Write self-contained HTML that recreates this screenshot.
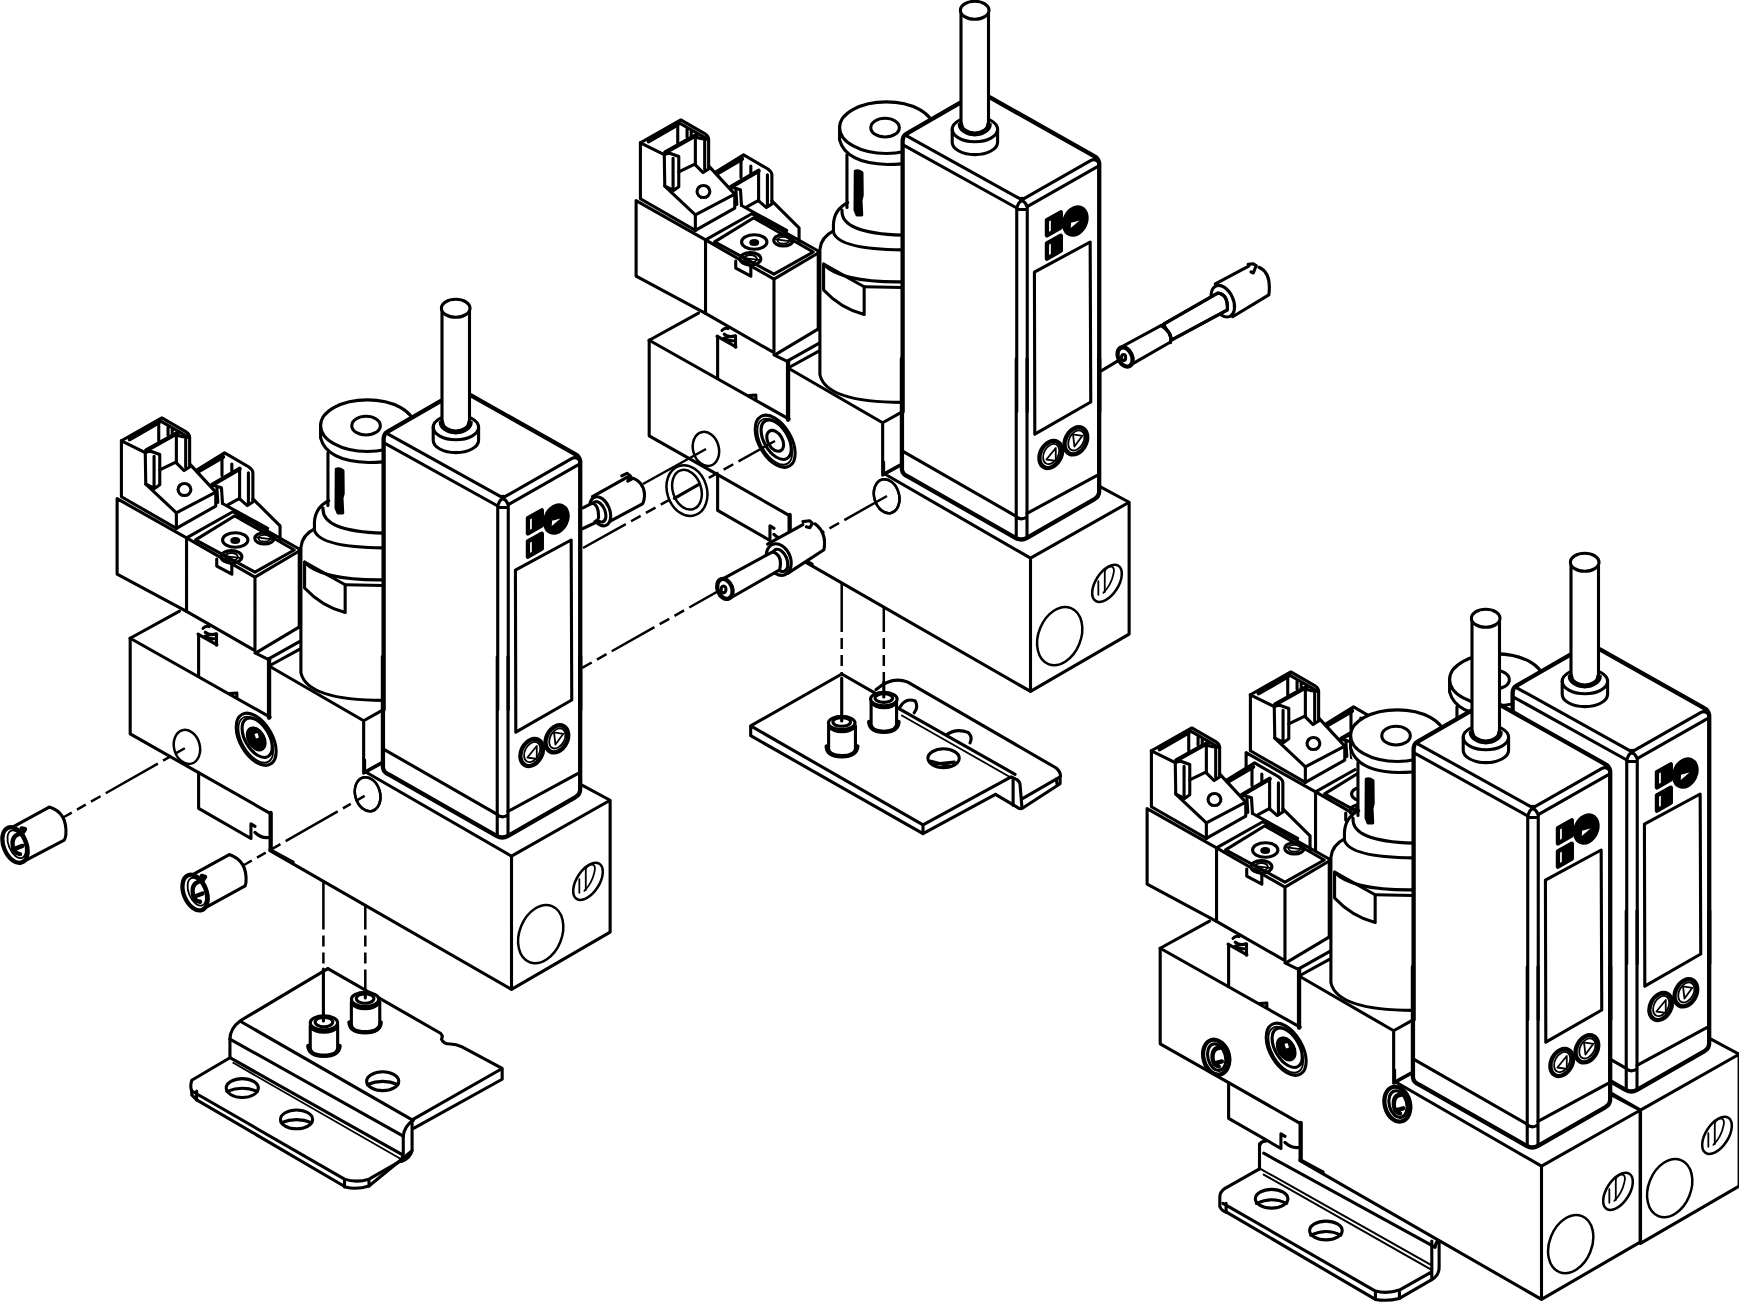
<!DOCTYPE html>
<html><head><meta charset="utf-8"><title>Valve assembly</title>
<style>
html,body{margin:0;padding:0;background:#fff;width:1739px;height:1302px;overflow:hidden;font-family:"Liberation Sans",sans-serif;}
svg{display:block}
svg *{vector-effect:non-scaling-stroke}
.s path,.s ellipse,.s line,.s polyline,.s polygon,.s circle,.s rect{fill:none;stroke:#000;stroke-width:3.1;stroke-linejoin:round;stroke-linecap:round}
.s .w{fill:#fff}
.s .t{stroke-width:4.3}
.s .tt{stroke-width:5.5}
.s .f{fill:#000}
.s .n{stroke-width:1.8}
.s .m{stroke-width:2.5}
.s .d{stroke-dasharray:14 8;stroke-width:2.2}
.s .ch path{stroke-dasharray:49 6 11 6 11 6;stroke-width:2.5;vector-effect:none;stroke-linecap:butt}
</style></head><body>
<svg class="s" width="1739" height="1302" viewBox="0 0 1739 1302">
<defs>
<g id="unit">
 <path class="w" style="stroke:none" d="M121.4,440.8 L161.8,418 L189.6,436.1 L189.6,467 L197.1,469.8 L224.6,452.9 L252.9,472.4 L252.9,501.9 L280.1,525.8 L280.1,540 L299.2,549 L314.4,529 L314.4,515.4 L328,500.7 L328,460 L320.6,438 L320.6,425.7 L340,405 L367,399.8 L395,403 L410,418 L441.5,400 L441.5,310 L456,300 L471,310 L471,394 L582,455 L582,790 L610,800 L610,932 L511,989 L270,850 L250.9,838.5 L198.6,808.3 L198.6,772.7 L130.2,733.8 L130.2,638.2 L117.1,574.2 L117.1,498.7 L121.4,496.8 Z"/>
 <!-- E frame: manifold right end -->
 <g transform="translate(270,760) scale(0.20126)">
  <path d="M470,0 L470,60 L560,10 M480,62 L1200,478 L1690,200 L1690,855 L1200,1140 L0,450 M1200,478 L1200,1140 M1550,125 L1690,200"/>
  <ellipse class="m" cx="485" cy="170" rx="62" ry="86" transform="rotate(-15 485 170)"/>
  <ellipse class="m" cx="1345" cy="865" rx="105" ry="150" transform="rotate(22 1345 865)"/>
  <ellipse class="m" cx="1580" cy="603" rx="56" ry="104" transform="rotate(33 1580 603)"/>
  <path class="n" d="M1569,540 Q1585,515 1604,520 Q1620,527 1612,557 Q1600,612 1562,650"/>
  <path class="n" d="M1569,541 L1569,646 M1537,592 L1537,660"/>
 </g>
 <!-- C frame: manifold sub-base -->
 <g transform="translate(100,600) scale(0.20126)">
  <path d="M150,190 L395,55"/>
  <path d="M150,190 L150,665 L490,858 L845,1060"/>
  <path d="M150,190 L845,582"/>
  <path d="M490,170 L490,380"/>
  <path d="M770,263 L836,295 M781,259 L993,132"/>
  <path class="t" d="M840,295 L840,585"/>
  <path d="M836,294 L993,206 M840,328 L993,244"/>
  <path d="M840,328 L1310,600 L1310,860 M1310,600 L1400,550 M1310,860 L1400,810"/>
  <path d="M512,141 Q523,126 542,132 M523,160 Q546,179 577,168 M523,179 Q546,198 577,191 M579,168 L579,225 M487,170 L581,223"/>
  <path d="M645,465 L680,462 L680,485"/>
  <ellipse cx="776" cy="692" rx="80" ry="142" transform="rotate(-30 776 692)"/>
  <ellipse class="n" cx="774" cy="694" rx="68" ry="126" transform="rotate(-30 774 694)"/>
  <ellipse cx="781" cy="684" rx="60" ry="108" transform="rotate(-30 781 684)"/>
  <ellipse cx="776" cy="690" rx="36" ry="56" transform="rotate(-30 776 690)"/>
  <ellipse class="m" cx="432" cy="730" rx="64" ry="86" transform="rotate(-15 432 730)"/>
  <path d="M490,858 L490,1035 L750,1185 L750,1112 L770,1125 M770,1155 Q800,1185 840,1180"/>
  <path class="t" d="M848,1058 L848,1240"/>
  <ellipse class="m" cx="1330" cy="965" rx="62" ry="86" transform="rotate(-15 1330 965)"/>
  <path d="M845,1240 L960,1302"/>
 </g>
 <!-- A frame: coils -->
 <g transform="translate(100,390) scale(0.20126)">
  <path d="M85,540 L85,915 L430,1100 L430,735 Z"/>
  <path d="M430,735 L770,930 L770,1295 L430,1100 M770,930 L990,800 M430,735 L660,605 L990,790"/>
  <path d="M475,745 L670,625 L965,795 L770,905 Z"/>
  <ellipse cx="672" cy="745" rx="63" ry="36"/>
  <ellipse class="f" cx="672" cy="748" rx="17" ry="10"/>
  <ellipse cx="817" cy="737" rx="48" ry="28"/>
  <ellipse class="n" cx="817" cy="737" rx="30" ry="17"/>
  <path class="n" d="M780,732 L855,742"/>
  <ellipse cx="653" cy="829" rx="52" ry="31"/>
  <ellipse class="n" cx="653" cy="829" rx="32" ry="19"/>
  <path class="n" d="M612,824 L695,834"/>
  <path d="M580,840 L580,875 L655,915 L655,865"/>
  <path d="M990,790 L990,1180"/>
 </g>
 <!-- K1 frame: connectors -->
 <g transform="translate(110,405) scale(0.10369)">
  <path d="M110,345 L500,125 L738,262 Q768,282 768,315 L768,598 L715,632 L640,558"/>
  <path d="M110,345 L110,885 L640,1190"/>
  <path d="M110,345 L345,462"/>
  <path class="t" d="M190,330 L470,168 M350,438 L648,272"/>
  <path d="M470,165 L470,345 M480,150 L740,300 M560,215 L560,290 M600,232 L600,292"/>
  <path d="M640,290 L640,558 M730,318 L730,600 M640,290 L700,305 L768,310"/>
  <path d="M480,625 L640,548"/>
  <path d="M340,462 L345,762 L430,805 L480,770 L480,478 L400,448 Q355,445 340,462 Z M425,495 L425,800"/>
  <path d="M345,762 L640,1040 M770,570 L1020,840"/>
  <path d="M640,1040 L1020,840 L1020,975 L640,1190 Z"/>
  <ellipse cx="718" cy="815" rx="62" ry="58"/>
  <path d="M840,625 L1105,462 L1340,598 Q1378,625 1378,655 L1378,935 L1325,970 L1250,905"/>
  <path class="t" d="M850,640 L1090,500 M985,770 L1250,615"/>
  <path d="M1080,505 L1080,680 M1175,570 L1175,650"/>
  <path d="M1250,625 L1250,905 M1335,655 L1335,960"/>
  <path d="M985,772 L1075,798 L1085,950 M1030,790 L1040,940"/>
  <path d="M1378,905 L1640,1165 L1640,1302"/>
  <path d="M1085,950 L1520,1190 M1140,960 L1250,900"/>
 </g>
 <!-- R frame: regulator -->
 <g transform="translate(280,390) scale(0.2459)">
  <path class="w" d="M165,145 L165,195 Q175,280 195,285 L195,450 Q140,480 140,560 Q90,590 85,640 L85,1150 Q110,1260 420,1262 L420,100 Q330,30 165,145 Z" style="stroke:none"/>
  <ellipse class="w" cx="355" cy="145" rx="190" ry="105"/>
  <ellipse cx="350" cy="145" rx="58" ry="38"/>
  <path d="M165,145 L165,195 Q190,290 360,295 Q480,295 545,250"/>
  <path d="M195,255 L195,470"/>
  <path class="f" d="M229,322 Q240,316 256,328 L257,420 L252,440 L255,500 L236,500 L228,480 Z"/>
  <path d="M198,450 Q142,478 140,540 L140,570 Q160,640 420,642 M175,480 Q168,575 420,582"/>
  <path d="M140,565 Q90,590 85,640 L85,1150 Q110,1262 420,1262"/>
  <path d="M100,700 Q170,775 420,772 M265,792 L420,795"/>
  <path d="M100,700 L100,805 Q170,880 265,905 L265,792 L100,700"/>
 </g>
 <!-- display body fill -->
 <path class="w" style="stroke:none" d="M382,434 L460,388 L582,455 L582,790 L504,838 L382,770 Z"/>
 <!-- D frame: display front details -->
 <g transform="translate(290,540) scale(0.20126)">
  <path d="M1120,150 L1397,0 L1400,795 L1122,955 Z"/>
 </g>
 <!-- U frame: display bottom -->
 <g transform="translate(370,700) scale(0.14376)">
  <path class="t" d="M90,-300 L90,470 Q95,505 130,518 L880,945 Q920,968 960,945 L1430,675 Q1462,655 1462,620 L1462,-300"/>
  <path d="M100,345 L885,795 M960,775 L1445,512"/>
  <path d="M885,-300 L885,940 M960,-300 L960,940 M887,800 Q920,825 958,800"/>
  <ellipse class="t" cx="1125" cy="365" rx="72" ry="100" transform="rotate(28 1125 365)"/>
  <ellipse class="n" cx="1128" cy="362" rx="50" ry="75" transform="rotate(28 1128 362)"/>
  <path class="n" d="M1160,320 L1095,400 L1160,410 Z"/>
  <ellipse class="t" cx="1300" cy="270" rx="72" ry="100" transform="rotate(28 1300 270)"/>
  <ellipse class="n" cx="1303" cy="267" rx="50" ry="75" transform="rotate(28 1303 267)"/>
  <path class="n" d="M1280,225 L1290,310 L1345,235 Z"/>
 </g>
 <!-- T frame: display top -->
 <g transform="translate(380,420) scale(0.12076)">
  <path class="t" d="M30,2400 L30,150 Q35,110 60,98 L505,-158"/>
  <path d="M60,112 L1000,635 Q1020,628 1035,635 L1590,318 Q1625,300 1650,330"/>
  <path d="M45,195 L975,712 M1062,700 L1640,372"/>
  <path d="M975,2400 L975,712 Q990,660 1018,650 Q1045,660 1062,700 L1062,2400 M985,725 L1055,725"/>
  <path class="t" d="M1658,2400 L1658,340 Q1650,300 1620,285 L753,-204"/>
  <path class="t" d="M1225,812 L1340,748 L1340,872 L1225,940 Z M1225,1005 L1340,942 L1340,1066 L1225,1132 Z"/>
  <path class="f" d="M1270,790 L1340,750 L1340,870 L1270,910 Z M1270,985 L1340,945 L1340,1062 L1270,1105 Z"/>
  <ellipse class="f" cx="1460" cy="820" rx="92" ry="122" transform="rotate(25 1460 820)"/>
  <path d="M1422,878 L1495,815 L1425,835 Z" style="fill:#fff;stroke:none"/>
 </g>
 <!-- pin (source coords) -->
 <path class="w" d="M433.2,427.3 A22.6,12.4 0 0 1 478.6,427.3 L478.6,440.2 A22.6,12.4 0 0 1 433.2,440.2 Z"/>
 <path d="M433.2,427.3 A22.6,12.4 0 0 0 478.6,427.3"/>
 <path class="n" d="M439.6,421.9 A16.1,11.6 0 0 0 471.9,421.9"/>
 <path class="w" style="stroke:none" d="M442,308 L442,421.9 A13.75,9.7 0 0 0 469.5,421.9 L469.5,308 Z"/>
 <path d="M442,308 L442,421.9 M469.5,421.9 L469.5,308"/>
 <path class="t" d="M442,421.9 A13.75,9.7 0 0 0 469.5,421.9"/>
 <ellipse class="w" cx="455.7" cy="308.3" rx="14.3" ry="9"/>
</g>
</g>
</defs>
<use href="#unit"/>
<use href="#unit" transform="translate(519,-298)"/>
<use href="#unit" transform="translate(1129,254)"/>
<!-- port plugs (left unit, RF unit) -->
<g>
 <ellipse class="f" cx="256.2" cy="738.9" rx="7.6" ry="11.8" transform="rotate(-30 256.2 738.9)"/>
 <path d="M254.5,734 L257.5,733 L259,737.5 L256,738.5 Z" style="fill:#fff;stroke:none"/>
</g>
<!-- chain lines -->
<g class="ch">
 <path d="M323.4,880.5 L323.4,1022" style="stroke-dashoffset:0"/>
 <path d="M365.3,904.5 L365.3,999" style="stroke-dashoffset:24"/>
 <path d="M841.7,583 L841.7,722"/>
 <path d="M883.8,607 L883.8,697" style="stroke-dashoffset:24"/>
 <path d="M64,817 L187,747" style="stroke-dasharray:9 6 10 6 11 6 60 6"/>
 <path d="M244,865 L368,794" style="stroke-dasharray:9 6 10 6 11 6 60 6"/>
 <path d="M887,496 L582,668"/>
 <path d="M583,548 L775,441"/>
 <path d="M706,449 L643,484" style="stroke-dasharray:none"/>
 <path d="M1117.6,361 L1101.5,370.8" style="stroke-dasharray:none"/>
</g>
<!-- RF bracket -->
<g transform="translate(1130,1030) scale(0.20886)">
 <path class="w" style="stroke:none" d="M620,545 L1480,1010 L1480,1190 L1290,1285 Q1230,1300 1175,1290 L460,870 Q430,860 430,820 L430,790 Q440,760 620,665 Z"/>
 <path d="M620,560 Q622,532 650,532 M620,545 L620,665 M640,590 L1460,1040"/>
 <path style="stroke-width:2" d="M620,662 L1445,1127 M640,692 L1440,1146"/>
 <path d="M620,665 L455,758 Q430,775 430,800 L430,845 Q438,866 462,872 L1175,1290 Q1230,1300 1290,1285 L1445,1195 Q1482,1175 1480,1130 L1480,1010 Q1470,1000 1460,1040"/>
 <path d="M445,830 L1175,1250 Q1230,1265 1290,1245 L1440,1160 M460,830 L460,872 M1175,1250 L1175,1290 M1290,1245 L1290,1285 M1445,1010 L1445,1195"/>
 <ellipse cx="678" cy="808" rx="78" ry="45"/>
 <path d="M605,830 Q680,795 750,830"/>
 <ellipse cx="938" cy="960" rx="78" ry="45"/>
 <path d="M865,982 Q940,947 1010,982"/>
</g>
<use href="#unit" transform="translate(1030,310)"/>
<!-- RF plugs -->
 <ellipse class="f" cx="1286.2" cy="1048.9" rx="7.6" ry="11.8" transform="rotate(-30 1286.2 1048.9)"/>
 <path d="M1284.5,1044 L1287.5,1043 L1289,1047.5 L1286,1048.5 Z" style="fill:#fff;stroke:none"/>

<g transform="translate(1130,1030) scale(0.20886)">
 <ellipse class="w t" cx="412" cy="130" rx="60" ry="85" transform="rotate(-15 412 130)"/>
 <ellipse cx="415" cy="130" rx="42" ry="65" transform="rotate(-15 415 130)"/>
 <path class="t" d="M430,85 Q395,85 395,130 Q395,165 425,175 M405,160 L440,150"/>
 <ellipse class="w t" cx="1280" cy="355" rx="60" ry="85" transform="rotate(-15 1280 355)"/>
 <ellipse cx="1283" cy="355" rx="42" ry="65" transform="rotate(-15 1283 355)"/>
 <path class="t" d="M1298,310 Q1263,310 1263,355 Q1263,390 1293,400 M1273,385 L1308,375"/>
</g>
<!-- left bracket -->
<g transform="translate(180,950) scale(0.19585)">
 <path class="w" style="stroke:none" d="M755,95 L1645,605 L1645,660 L1185,1025 L965,1205 Q900,1225 845,1210 L60,740 L60,665 L255,550 L255,455 Q255,400 310,360 Z"/>
 <path d="M755,95 L310,360 Q255,400 255,455 L255,550 L60,665 Q50,700 60,720 L60,740 L85,765 L845,1210 Q900,1225 965,1205 L1185,1025"/>
 <path d="M755,95 L1330,425 Q1345,440 1335,455 Q1345,480 1380,480 Q1410,480 1440,495 L1645,605 L1645,660 L1195,910 M1645,605 L1190,865"/>
 <path d="M310,365 L1190,870 M255,455 L1140,950 M255,550 L1130,1042"/>
 <path class="n" d="M272,576 L1130,1068"/>
 <path d="M1190,870 Q1145,900 1140,950 L1140,1040 Q1130,1075 1130,1080 M1185,880 L1185,1020 Q1180,1060 1130,1080"/>
 <path d="M60,720 L840,1170 Q900,1190 965,1170 L1130,1075 M85,720 L85,765 M840,1170 L840,1210 M965,1170 L965,1205"/>
 <ellipse cx="318" cy="705" rx="82" ry="48"/>
 <path d="M240,722 Q320,690 395,722"/>
 <ellipse cx="595" cy="865" rx="82" ry="48"/>
 <path d="M517,882 Q595,850 672,882"/>
 <ellipse cx="1035" cy="670" rx="82" ry="48"/>
 <path d="M957,687 Q1035,655 1112,687"/>
 <path class="w" d="M665,385 L665,500 Q665,540 735,540 Q805,540 805,500 L805,385"/>
 <path class="t" d="M655,490 Q660,540 735,540 Q810,540 815,490"/>
 <ellipse class="w" cx="735" cy="372" rx="70" ry="36"/>
 <path d="M668,395 Q690,420 735,420 Q780,420 802,395"/>
 <ellipse cx="735" cy="368" rx="45" ry="24"/>
 <path class="w" d="M875,265 L875,380 Q875,420 945,420 Q1020,420 1020,380 L1020,265"/>
 <path class="t" d="M865,370 Q870,420 945,420 Q1020,420 1025,370"/>
 <ellipse class="w" cx="945" cy="252" rx="70" ry="36"/>
 <path d="M878,275 Q900,300 945,300 Q990,300 1012,275"/>
 <ellipse cx="945" cy="248" rx="45" ry="24"/>
</g>
<!-- left unit dashed to bracket -->
<!-- left plug fittings -->
<g transform="translate(0,770) scale(0.16676)">
 <path class="w" d="M70,345 L295,222 Q405,255 395,390 Q390,415 385,420 L120,560"/>
 <ellipse class="w t" cx="90" cy="450" rx="68" ry="112" transform="rotate(-22 90 450)"/>
 <ellipse class="n" cx="100" cy="445" rx="48" ry="88" transform="rotate(-22 100 445)"/>
 <path class="t" d="M135,380 Q75,385 75,440 Q75,500 120,505 M95,470 L135,455 M130,350 L150,355 L140,370"/>
 <path class="w" d="M1150,630 L1375,507 Q1485,545 1475,675 Q1472,690 1470,695 L1205,840"/>
 <ellipse class="w t" cx="1170" cy="735" rx="68" ry="112" transform="rotate(-22 1170 735)"/>
 <ellipse class="n" cx="1180" cy="730" rx="48" ry="88" transform="rotate(-22 1180 730)"/>
 <path class="t" d="M1215,665 Q1155,670 1155,725 Q1155,785 1200,790 M1175,755 L1215,740 M1210,635 L1230,640 L1220,655"/>
</g>
<!-- fittings between left and middle -->
<g transform="translate(570,400) scale(0.17251)">
 <path class="w" style="stroke:none" d="M75,620 L130,585 L330,448 L355,440 Q420,460 430,540 Q432,580 420,600 L185,725 L75,745 Z"/>
 <path d="M130,560 L330,448 M300,440 L330,425 L350,440 L335,470 L355,460 M355,450 Q425,470 432,545 Q432,585 420,602 L185,728"/>
 <ellipse class="w" cx="175" cy="645" rx="55" ry="88" transform="rotate(-22 175 645)"/>
 <ellipse cx="168" cy="648" rx="35" ry="62" transform="rotate(-22 168 648)"/>
 <path class="w" d="M75,620 L130,595 Q170,610 165,680 L75,745 Z" style="stroke:none"/>
 <path d="M75,625 L130,598 Q170,612 165,685 M75,745 L160,705"/>
 <ellipse class="w m" cx="678" cy="525" rx="115" ry="150" transform="rotate(-18 678 525)"/>
 <ellipse class="m" cx="678" cy="520" rx="82" ry="118" transform="rotate(-18 678 520)"/>
 <path d="M605,570 L750,488"/>
 <path class="w" style="stroke:none" d="M1145,835 L1370,715 L1420,715 Q1490,790 1470,870 L1260,1005 L1215,985 L935,1145 L870,1045 L1145,880 Z"/>
 <path d="M1145,835 L1350,722 M1350,705 L1390,700 L1405,715 L1390,740 L1370,735 M1420,718 Q1490,770 1472,868 L1262,1005"/>
 <ellipse class="w" cx="1210" cy="925" rx="68" ry="95" transform="rotate(-22 1210 925)"/>
 <ellipse cx="1218" cy="930" rx="40" ry="68" transform="rotate(-22 1218 930)"/>
 <path class="w" d="M870,1045 L1175,880 Q1235,900 1215,985 L935,1145 Z"/>
 <ellipse class="w t" cx="898" cy="1095" rx="42" ry="60" transform="rotate(-22 898 1095)"/>
 <ellipse cx="890" cy="1098" rx="14" ry="20"/>
</g>
<!-- middle unit long fitting -->
<g transform="translate(1090,250) scale(0.11501)">
 <path d="M100,1050 L240,965"/>
 <path class="w" style="stroke:none" d="M1090,295 L1415,125 Q1580,200 1555,390 L1240,580 L1170,525 L715,780 L700,810 L335,1010 L260,850 L620,655 L640,645 L1040,420 Z"/>
 <path d="M1090,295 L1380,140 M1375,125 L1420,120 L1445,135 L1420,200 L1400,190 M1470,150 Q1580,200 1555,390 L1240,580"/>
 <ellipse class="w" cx="1155" cy="445" rx="90" ry="145" transform="rotate(-25 1155 445)"/>
 <path class="w" d="M640,645 L1110,375 Q1200,380 1195,520 L715,780 Z"/>
 <path d="M640,645 L1110,375 Q1200,380 1195,520 L715,780"/>
 <path class="w" d="M260,850 L620,655 Q720,720 700,800 L335,1010 Z"/>
 <path d="M620,655 Q720,720 700,805"/>
 <ellipse class="w t" cx="305" cy="930" rx="60" ry="88" transform="rotate(-25 305 930)"/>
 <ellipse cx="292" cy="935" rx="18" ry="26"/>
</g>
<!-- middle bracket -->
<g transform="translate(735,580) scale(0.19585)">
 <path class="w" style="stroke:none" d="M545,480 L720,545 Q810,490 880,520 L1640,960 Q1665,980 1660,1040 L1470,1150 L1330,1095 L960,1295 L80,795 L80,745 Z"/>
 <path d="M720,560 Q800,490 880,520 L1640,960 Q1668,985 1660,1010 L1660,1040 L1475,1160 Q1455,1175 1440,1160 L1330,1095 M1660,1005 L1470,1115 M1640,1015 L1645,1045"/>
 <path class="n" d="M852,692 L1415,1012"/>
 <path d="M835,655 L1430,992 M840,652 Q870,598 920,618 Q938,648 915,678 M1080,790 Q1130,755 1190,778 Q1215,800 1200,832"/>
 <path d="M545,480 L80,745 L80,795 L960,1295 L960,1250 L80,745 M960,1295 L1330,1095 M960,1250 L1410,1005 Q1450,1020 1455,1040 L1465,1160 M1420,1010 L1420,1150"/>
 <path d="M545,480 L720,580"/>
 <ellipse cx="1065" cy="910" rx="80" ry="48"/>
 <path d="M1000,925 L1095,950 M1020,940 L1120,930"/>
 <path class="w" d="M478,745 L478,860 Q478,900 545,900 Q615,900 615,860 L615,745"/>
 <path class="t" d="M468,850 Q472,900 545,900 Q618,900 625,850"/>
 <ellipse class="w" cx="545" cy="730" rx="68" ry="34"/>
 <path d="M480,750 Q500,775 545,775 Q590,775 612,750"/>
 <ellipse cx="545" cy="725" rx="45" ry="22"/>
 <path class="w" d="M695,620 L695,735 Q695,775 760,775 Q825,775 825,735 L825,620"/>
 <path class="t" d="M685,725 Q690,775 760,775 Q830,775 835,725"/>
 <ellipse class="w" cx="760" cy="608" rx="68" ry="34"/>
 <path d="M697,628 Q718,652 760,652 Q805,652 823,628"/>
 <ellipse cx="760" cy="603" rx="45" ry="22"/>
</g>
<path d="M323.4,969 L323.4,1021 M365.3,990 L365.3,998 M841.7,678 L841.7,721 M883.8,682 L883.8,697"/>
</svg>
</body></html>
